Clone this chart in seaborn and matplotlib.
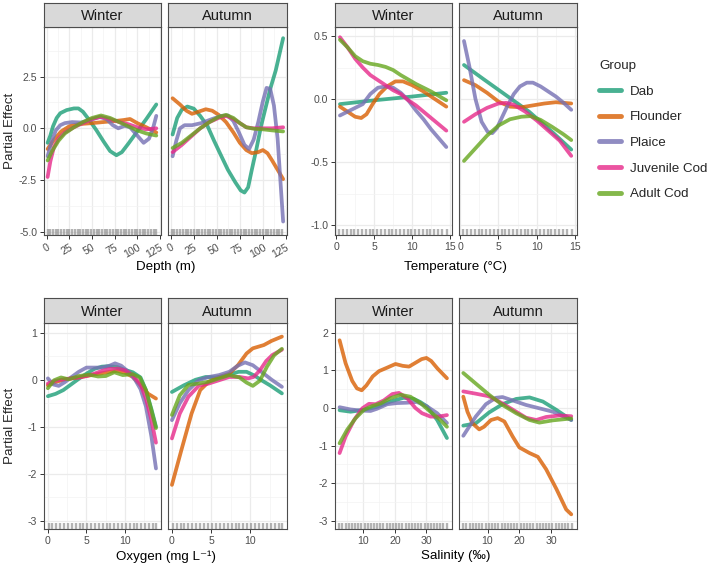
import pandas as pd
import seaborn as sns
import matplotlib.pyplot as plt
from matplotlib.ticker import MultipleLocator

groups = ['Dab', 'Flounder', 'Plaice', 'Juvenile Cod', 'Adult Cod']
colours = ['#1B9E77', '#D95F02', '#7570B3', '#E7298A', '#66A61E']
seasons = ['Winter', 'Autumn']

# Partial effect curves, (x, effect) pairs per group
depth_winter = {
    'Dab': [(1, -0.7), (4, -0.35), (7, 0.1), (11, 0.5), (15, 0.73), (22, 0.88), (30, 0.96), (35, 0.96), (40, 0.8),
            (47, 0.4), (55, -0.1), (63, -0.65), (70, -1.1), (77, -1.3), (83, -1.15), (90, -0.75), (100, -0.15),
            (110, 0.45), (121, 1.15)],
    'Flounder': [(1, -1.0), (8, -0.55), (16, -0.15), (25, 0.1), (35, 0.2), (50, 0.25), (62, 0.3), (75, 0.35),
                 (85, 0.4), (92, 0.45), (100, 0.25), (110, 0.05), (121, -0.2)],
    'Plaice': [(1, -1.35), (5, -0.7), (10, -0.1), (15, 0.15), (20, 0.25), (28, 0.3), (38, 0.28), (48, 0.4),
               (58, 0.55), (66, 0.45), (73, 0.15), (79, 0.0), (86, 0.12), (92, 0.05), (100, -0.35), (107, -0.7),
               (113, -0.5), (118, 0.1), (121, 0.6)],
    'Juvenile Cod': [(1, -2.35), (4, -1.6), (8, -0.9), (13, -0.5), (20, -0.2), (30, 0.05), (40, 0.25), (50, 0.45),
                     (60, 0.55), (70, 0.45), (80, 0.3), (90, 0.2), (100, 0.05), (110, -0.05), (121, 0.0)],
    'Adult Cod': [(1, -1.55), (6, -1.1), (13, -0.6), (20, -0.25), (30, 0.05), (40, 0.3), (50, 0.5), (60, 0.62),
                  (70, 0.5), (80, 0.3), (90, 0.1), (100, -0.1), (110, -0.25), (121, -0.35)],
}
depth_autumn = {
    'Dab': [(2, -0.3), (7, 0.5), (12, 0.9), (18, 1.05), (25, 0.95), (32, 0.6), (40, 0.1), (47, -0.6), (55, -1.35),
            (62, -2.0), (70, -2.6), (76, -3.0), (80, -3.1), (84, -2.85), (88, -2.0), (93, -1.0), (98, 0.1),
            (103, 1.0), (108, 1.9), (114, 2.8), (122, 4.35)],
    'Flounder': [(2, 1.45), (10, 1.15), (17, 0.85), (23, 0.7), (30, 0.8), (38, 0.92), (45, 0.85), (52, 0.65),
                 (60, 0.3), (68, -0.2), (75, -0.7), (82, -1.05), (88, -1.2), (95, -1.15), (100, -1.05),
                 (105, -1.2), (110, -1.55), (116, -2.0), (122, -2.45)],
    'Plaice': [(2, -1.35), (6, -0.6), (10, 0.0), (15, 0.15), (23, 0.15), (33, 0.25), (45, 0.45), (55, 0.6),
               (62, 0.62), (68, 0.35), (74, -0.2), (80, -0.8), (85, -1.0), (90, -0.55), (95, 0.3), (100, 1.3),
               (104, 1.95), (108, 1.9), (112, 1.1), (116, -0.5), (119, -2.5), (122, -4.5)],
    'Juvenile Cod': [(2, -1.15), (12, -0.8), (22, -0.4), (32, 0.0), (42, 0.3), (52, 0.5), (60, 0.6), (68, 0.45),
                     (75, 0.25), (82, 0.05), (90, 0.0), (100, 0.0), (110, 0.0), (122, 0.05)],
    'Adult Cod': [(2, -0.95), (12, -0.7), (22, -0.35), (32, 0.0), (42, 0.3), (52, 0.55), (60, 0.65), (68, 0.5),
                  (75, 0.25), (82, 0.05), (90, -0.02), (100, -0.05), (110, -0.1), (122, -0.15)],
}

temp_winter = {
    'Dab': [(0.5, -0.04), (5, -0.01), (10, 0.02), (14.5, 0.05)],
    'Flounder': [(0.5, -0.06), (1.5, -0.1), (2.5, -0.14), (3.3, -0.15), (4, -0.12), (4.8, -0.04), (5.7, 0.04),
                 (6.7, 0.1), (7.8, 0.14), (8.8, 0.14), (10, 0.11), (11.5, 0.06), (13, 0.0), (14.5, -0.06)],
    'Plaice': [(0.5, -0.13), (1.5, -0.1), (2.5, -0.07), (3.5, -0.04), (4.5, 0.04), (5.5, 0.09), (6.5, 0.1),
               (7.5, 0.09), (8.5, 0.05), (9.5, -0.01), (10.5, -0.09), (11.5, -0.16), (12.5, -0.24), (13.5, -0.31),
               (14.5, -0.38)],
    'Juvenile Cod': [(0.5, 0.49), (1.5, 0.41), (2.5, 0.32), (3.5, 0.25), (4.5, 0.19), (5.5, 0.15), (6.5, 0.11),
                     (7.5, 0.07), (8.5, 0.04), (9.5, -0.01), (10.5, -0.05), (11.5, -0.1), (12.5, -0.15),
                     (13.5, -0.2), (14.5, -0.25)],
    'Adult Cod': [(0.5, 0.47), (1.5, 0.41), (2.5, 0.34), (3.5, 0.3), (4.5, 0.28), (5.5, 0.27), (6.5, 0.255),
                  (7.5, 0.23), (8.5, 0.19), (9.5, 0.155), (10.5, 0.12), (11.5, 0.09), (12.5, 0.06),
                  (13.5, 0.025), (14.5, -0.01)],
}
temp_autumn = {
    'Dab': [(0.5, 0.27), (3, 0.16), (6, 0.03), (9, -0.1), (12, -0.26), (14.5, -0.4)],
    'Flounder': [(0.5, 0.15), (2, 0.11), (3.5, 0.05), (5, -0.02), (6.5, -0.06), (8, -0.065), (9.5, -0.05),
                 (11, -0.035), (12.5, -0.025), (14.5, -0.035)],
    'Plaice': [(0.5, 0.46), (1.2, 0.26), (2, 0.0), (2.8, -0.18), (3.6, -0.26), (4.2, -0.27), (4.8, -0.23),
               (5.5, -0.14), (6.2, -0.05), (7, 0.04), (7.8, 0.1), (8.7, 0.13), (9.5, 0.13), (10.5, 0.1),
               (11.5, 0.06), (12.5, 0.02), (13.5, -0.03), (14.5, -0.085)],
    'Juvenile Cod': [(0.5, -0.18), (2, -0.12), (3.5, -0.07), (5, -0.035), (6, -0.03), (7, -0.045), (8.5, -0.1),
                     (10, -0.17), (11.5, -0.25), (13, -0.33), (14.5, -0.45)],
    'Adult Cod': [(0.5, -0.49), (2, -0.39), (3.5, -0.29), (5, -0.21), (6.5, -0.16), (8, -0.14), (9.2, -0.135),
                  (10.5, -0.165), (12, -0.22), (13.5, -0.28), (14.5, -0.325)],
}

oxygen_winter = {
    'Dab': [(0, -0.35), (1, -0.3), (2, -0.22), (3, -0.1), (4, 0.02), (5, 0.13), (6, 0.23), (7, 0.28), (8, 0.29),
            (9, 0.27), (10, 0.21), (11, 0.16), (12, 0.05), (12.7, -0.22), (13.4, -0.62), (14, -1.0)],
    'Flounder': [(0, -0.12), (1, -0.05), (2, 0.0), (3, 0.03), (4, 0.05), (5, 0.08), (6, 0.11), (7, 0.14),
                 (8, 0.17), (9, 0.19), (10, 0.15), (11, 0.06), (12, -0.12), (13, -0.3), (14, -0.4)],
    'Plaice': [(0, 0.03), (0.7, -0.1), (1.4, -0.13), (2.2, -0.05), (3, 0.05), (4, 0.17), (5, 0.26), (6, 0.26),
               (7, 0.26), (8, 0.3), (8.7, 0.35), (9.5, 0.3), (10.5, 0.16), (11.3, 0.0), (12, -0.2), (12.7, -0.57),
               (13.4, -1.2), (14, -1.89)],
    'Juvenile Cod': [(0, -0.08), (1, -0.02), (2, 0.01), (3, 0.03), (4, 0.05), (5, 0.08), (6, 0.13), (7, 0.19),
                     (8, 0.23), (9, 0.24), (10, 0.2), (11, 0.1), (12, -0.1), (12.7, -0.4), (13.4, -0.85),
                     (14, -1.34)],
    'Adult Cod': [(0, -0.18), (0.8, -0.01), (1.7, 0.05), (2.7, 0.01), (4, 0.08), (5.3, 0.11), (6.5, 0.07),
                  (7.5, 0.08), (8.6, 0.16), (9.7, 0.1), (11, 0.12), (11.9, 0.05), (12.7, -0.22), (13.4, -0.65),
                  (14, -1.03)],
}
oxygen_autumn = {
    'Dab': [(0, -0.26), (1.5, -0.12), (3, 0.0), (4.3, 0.06), (5.5, 0.05), (6.5, 0.07), (7.5, 0.12), (8.5, 0.17),
            (9.5, 0.17), (10.5, 0.09), (11.5, -0.02), (12.5, -0.12), (14, -0.29)],
    'Flounder': [(0, -2.24), (1.2, -1.5), (2.5, -0.72), (3.6, -0.22), (4.7, -0.04), (6, 0.06), (7.3, 0.13),
                 (8.4, 0.31), (9.5, 0.56), (10.3, 0.67), (11.7, 0.74), (12.7, 0.83), (14, 0.92)],
    'Plaice': [(0, -0.86), (1, -0.5), (2.1, -0.22), (3.4, -0.01), (4.7, 0.06), (6, 0.1), (7.3, 0.17), (8.4, 0.3),
               (9.3, 0.37), (10.3, 0.31), (11.7, 0.13), (12.7, 0.0), (14, -0.15)],
    'Juvenile Cod': [(0, -1.25), (1, -0.72), (2.1, -0.36), (3.4, -0.13), (4.7, -0.08), (6, -0.01), (7.3, 0.06),
                     (8.6, 0.06), (9.7, 0.03), (10.4, 0.06), (11.2, 0.2), (12, 0.4), (12.8, 0.53), (14, 0.64)],
    'Adult Cod': [(0, -0.75), (1, -0.33), (2.1, -0.11), (3.4, -0.08), (4.7, -0.04), (6, 0.03), (7.3, 0.1),
                  (8.6, 0.05), (9.5, -0.06), (10.3, -0.13), (11.2, -0.02), (12.1, 0.28), (13, 0.52), (14, 0.66)],
}

salinity_winter = {
    'Dab': [(2.5, -0.06), (6, -0.1), (10.2, -0.05), (14.4, 0.03), (18.6, 0.17), (22.8, 0.27), (26, 0.24),
            (28, 0.16), (30.2, 0.04), (33.4, -0.32), (36.5, -0.8)],
    'Flounder': [(2.5, 1.8), (4.4, 1.19), (6.5, 0.72), (8, 0.52), (9.5, 0.47), (11, 0.6), (13, 0.84), (15, 0.98),
                 (17.5, 1.07), (20.2, 1.17), (22.5, 1.12), (24.5, 1.1), (26.5, 1.2), (28.5, 1.3), (30, 1.33),
                 (31.5, 1.25), (33.5, 1.05), (36.5, 0.79)],
    'Plaice': [(2.5, 0.02), (6, -0.04), (9.2, -0.07), (12.3, -0.08), (14.4, -0.02), (17.6, 0.1), (20.7, 0.13),
               (23.9, 0.14), (27, 0.16), (30.2, 0.04), (33.4, -0.14), (36.5, -0.4)],
    'Juvenile Cod': [(2.5, -1.2), (4.4, -0.76), (7.1, -0.32), (9.7, -0.01), (11.8, 0.11), (13.9, 0.1),
                     (16.5, 0.2), (19.2, 0.37), (21.3, 0.4), (23.9, 0.26), (26.5, 0.0), (28.6, -0.14),
                     (31.3, -0.23), (33.9, -0.23), (36.5, -0.19)],
    'Adult Cod': [(2.5, -0.94), (4.9, -0.58), (7.6, -0.27), (10.2, -0.05), (12.8, 0.05), (15.5, 0.12),
                  (18.6, 0.26), (21.8, 0.35), (24.9, 0.3), (28.1, 0.13), (31.8, -0.14), (34.4, -0.32),
                  (36.5, -0.5)],
}
salinity_autumn = {
    'Dab': [(2.4, -0.47), (6.3, -0.41), (10.5, -0.12), (14.7, 0.1), (19, 0.24), (23.2, 0.28), (27.4, 0.17),
            (31.6, -0.05), (36.3, -0.32)],
    'Flounder': [(2.4, 0.3), (3.7, -0.1), (5.3, -0.41), (7.4, -0.57), (8.9, -0.5), (11.1, -0.32), (13.2, -0.27),
                 (15.3, -0.36), (17.9, -0.76), (20, -1.05), (23.2, -1.2), (25.8, -1.3), (28.4, -1.63),
                 (31.6, -2.15), (34.7, -2.7), (36.3, -2.83)],
    'Plaice': [(2.4, -0.74), (6.3, -0.23), (9.5, 0.1), (12.6, 0.27), (14.7, 0.29), (17.9, 0.2), (22.1, 0.08),
               (26.3, -0.01), (30.5, -0.1), (36.3, -0.32)],
    'Juvenile Cod': [(2.4, 0.44), (6.3, 0.38), (10.5, 0.31), (14.7, 0.12), (19, -0.1), (22.1, -0.26),
                     (25.3, -0.32), (28.4, -0.24), (32.6, -0.2), (36.3, -0.22)],
    'Adult Cod': [(2.4, 0.93), (6.3, 0.65), (10.5, 0.35), (14.7, 0.08), (19, -0.14), (23.2, -0.32), (26.3, -0.39),
                  (30.5, -0.33), (36.3, -0.28)],
}

# observation positions shown as rugs
depth_obs = [1, 4, 7, 10, 13, 16, 19, 22, 25, 28, 31, 34, 37, 40, 43, 46, 49, 52, 55, 58, 61, 64, 67, 70, 73,
             76, 79, 82, 85, 88, 91, 94, 97, 100, 103, 106, 109, 112, 115, 118, 121]
temp_obs = [0.4, 0.9, 1.4, 1.9, 2.4, 2.9, 3.4, 3.9, 4.4, 4.9, 5.4, 5.9, 6.4, 6.9, 7.4, 7.9, 8.4, 8.9, 9.4, 9.9,
            10.4, 10.9, 11.4, 11.9, 12.4, 12.9, 13.4, 13.9, 14.6]
oxygen_obs = [0.1, 0.6, 1.1, 1.6, 2.1, 2.6, 3.1, 3.6, 4.1, 4.6, 5.1, 5.6, 6.1, 6.6, 7.1, 7.6, 8.1, 8.6, 9.1, 9.6,
              10.1, 10.6, 11.1, 11.6, 12.1, 12.6, 13.1, 13.6, 14.0]
salinity_obs = [2.4, 3.4, 4.4, 5.4, 6.4, 7.4, 8.4, 9.4, 10.4, 11.4, 12.4, 13.4, 14.4, 15.4, 16.4, 17.4, 18.4,
                19.4, 20.4, 21.4, 22.4, 23.4, 24.4, 25.4, 26.4, 27.4, 28.4, 29.4, 30.4, 31.4, 32.4, 33.4, 34.4,
                35.4, 36.4]

# long-form table
rows = []
for var, season, curves in [('depth', 'Winter', depth_winter), ('depth', 'Autumn', depth_autumn),
                            ('temp', 'Winter', temp_winter), ('temp', 'Autumn', temp_autumn),
                            ('oxygen', 'Winter', oxygen_winter), ('oxygen', 'Autumn', oxygen_autumn),
                            ('salinity', 'Winter', salinity_winter), ('salinity', 'Autumn', salinity_autumn)]:
    for g, pts in curves.items():
        for x, y in pts:
            rows.append({'variable': var, 'season': season, 'group': g, 'x': x, 'effect': y})
df = pd.DataFrame(rows)

sns.set_theme(style='white')
plt.rcParams['font.family'] = ['Liberation Sans', 'DejaVu Sans']
plt.rcParams['axes.unicode_minus'] = False

W, H = 709, 570
fig = plt.figure(figsize=(W / 100, H / 100), dpi=100)


def box(x0, x1, y0, y1):
    return [x0 / W, 1 - y1 / H, (x1 - x0) / W, (y1 - y0) / H]


# variable, obs, xlim, ylim, xticks, xminor, yticks, yminor, fmt, xlabel, column x-ranges, row y-ranges
panels = [
    ('depth', depth_obs, (-3, 126.2), (-5.15, 4.89), [0, 25, 50, 75, 100, 125], 12.5,
     [-5, -2.5, 0, 2.5], 1.25, '{:.1f}', 'Depth (m)', [(44, 161), (168, 287)], (3, 27, 235), 267),
    ('temp', temp_obs, (-0.15, 15.25), (-1.077, 0.571), [0, 5, 10, 15], 2.5,
     [-1, -0.5, 0, 0.5], 0.25, '{:.1f}', 'Temperature (°C)', [(335, 452), (459, 577)], (3, 27, 235), 267),
    ('oxygen', oxygen_obs, (-0.5, 14.65), (-3.18, 1.21), [0, 5, 10], 2.5,
     [-3, -2, -1, 0, 1], 0.5, '{:.0f}', 'Oxygen (mg L⁻¹)', [(44, 161), (168, 287)], (298, 323, 529), 557),
    ('salinity', salinity_obs, (1.05, 38.1), (-3.22, 2.26), [10, 20, 30], 5,
     [-3, -2, -1, 0, 1, 2], 0.5, '{:.0f}', 'Salinity (‰)', [(335, 452), (459, 577)], (298, 323, 529), 556),
]

legend_ax = None
for var, obs, xlim, ylim, xt, xminor, yt, yminor, fmt, xlabel, cols, rowy, xlab_y in panels:
    for i, season in enumerate(seasons):
        x0, x1 = cols[i]
        s0, s1, p1 = rowy
        ax = fig.add_axes(box(x0, x1, s1, p1))
        sub = df[(df['variable'] == var) & (df['season'] == season)]
        ax.set_axisbelow(True)
        sns.lineplot(data=sub, x='x', y='effect', hue='group', hue_order=groups, palette=colours,
                     estimator=None, sort=False, linewidth=2.7, alpha=0.8, ax=ax,
                     legend=(var == 'temp' and season == 'Autumn'))
        sns.rugplot(x=obs, ax=ax, height=0.028, color='#8a8a8a', linewidth=1.7, alpha=0.65)
        ax.set_xlim(*xlim)
        ax.set_ylim(*ylim)
        ax.set_xticks(xt)
        ax.set_yticks(yt)
        ax.xaxis.set_minor_locator(MultipleLocator(xminor))
        ax.yaxis.set_minor_locator(MultipleLocator(yminor))
        ax.grid(True, which='major', color='#EBEBEB', linewidth=0.9)
        ax.grid(True, which='minor', color='#F3F3F3', linewidth=0.5)
        ax.set_xlabel('')
        ax.set_ylabel('')
        for sp in ax.spines.values():
            sp.set_color('#4d4d4d')
            sp.set_linewidth(0.8)
        ax.tick_params(which='major', length=3, width=0.7, color='#333333', labelsize=7.6,
                       labelcolor='#4D4D4D', pad=2, bottom=True, left=(i == 0))
        ax.tick_params(which='minor', length=0)
        if i == 0:
            ax.set_yticklabels([fmt.format(v) for v in yt])
        else:
            ax.set_yticklabels([])
        if var == 'depth':
            plt.setp(ax.get_xticklabels(), rotation=30, ha='right', rotation_mode='anchor')
        if ax.get_legend() is not None:
            legend_ax = ax

        # facet strip
        st = fig.add_axes(box(x0, x1, s0, s1))
        st.set_facecolor('#D9D9D9')
        st.set_xticks([])
        st.set_yticks([])
        for sp in st.spines.values():
            sp.set_color('#4d4d4d')
            sp.set_linewidth(0.8)
        st.text(0.5, 0.45, season, ha='center', va='center', fontsize=10.5, color='#1A1A1A',
                transform=st.transAxes)

    fig.text((cols[0][0] + cols[1][1]) / 2 / W, 1 - xlab_y / H, xlabel, ha='center', va='center',
             fontsize=9.6, color='black')

fig.text(10 / W, 1 - 131 / H, 'Partial Effect', rotation=90, ha='center', va='center', fontsize=9.6)
fig.text(10 / W, 1 - 426 / H, 'Partial Effect', rotation=90, ha='center', va='center', fontsize=9.6)

handles, labels = legend_ax.get_legend_handles_labels()
legend_ax.get_legend().remove()
leg = fig.legend(handles, labels, title='Group', loc='upper left', bbox_to_anchor=(599 / W, 1 - 60 / H),
                 frameon=False, fontsize=9.6, title_fontsize=9.6, handlelength=1.65, handletextpad=0.68,
                 labelspacing=1.0, borderpad=0, borderaxespad=0)
leg._legend_box.align = 'left'
for line in leg.get_lines():
    line.set_linewidth(3.5)
    line.set_alpha(0.8)

fig.savefig('out.png', dpi=100)
